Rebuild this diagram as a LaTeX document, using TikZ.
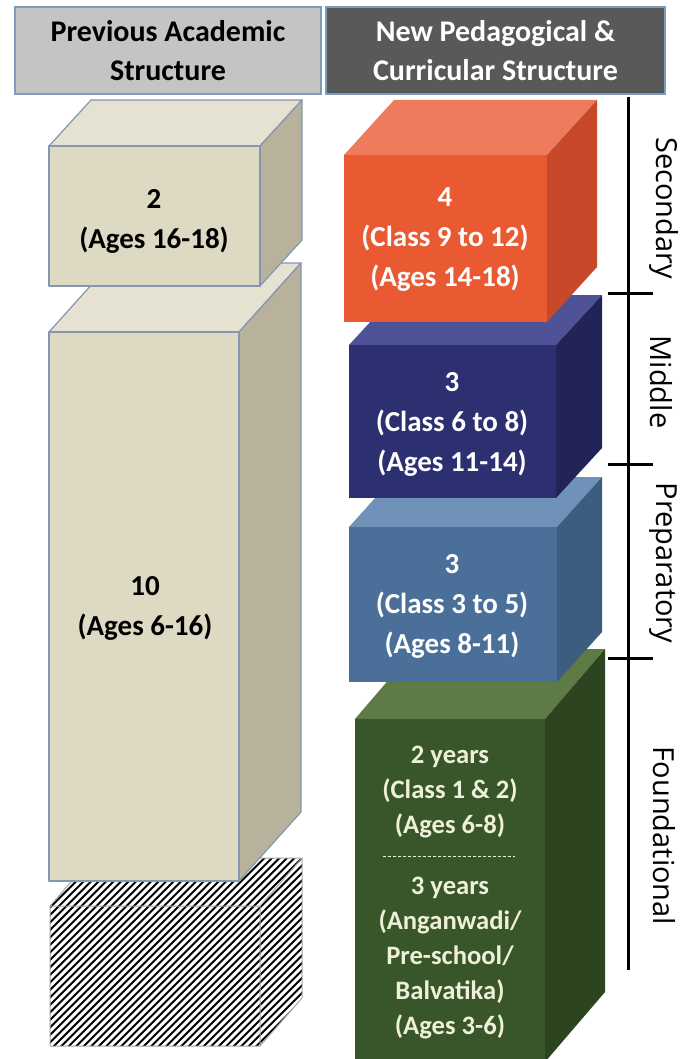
\documentclass[tikz,border=0pt]{standalone}
\usepackage{fontspec}
\setmainfont{Carlito}
\newfontfamily\labelfont{Open Sans}
\usetikzlibrary{positioning,calc}
\definecolor{headline}{HTML}{7F9BBA}
\definecolor{oldline}{HTML}{8496B0}
\definecolor{beigeF}{HTML}{DDD9C3}
\definecolor{beigeT}{HTML}{E6E2D1}
\definecolor{beigeS}{HTML}{B8B19C}
\definecolor{orangeF}{HTML}{E95A32}
\definecolor{orangeT}{HTML}{EE7B5C}
\definecolor{orangeS}{HTML}{C8482A}
\definecolor{navyF}{HTML}{2C2F70}
\definecolor{navyT}{HTML}{4D5396}
\definecolor{navyS}{HTML}{222458}
\definecolor{steelF}{HTML}{4A7099}
\definecolor{steelT}{HTML}{7192B8}
\definecolor{steelS}{HTML}{3C5C80}
\definecolor{greenF}{HTML}{39562A}
\definecolor{greenT}{HTML}{5E7B46}
\definecolor{greenS}{HTML}{2C4520}
\definecolor{creamtext}{HTML}{EEF0D8}
\tikzset{
  header/.style={draw=headline, line width=1pt, minimum width=#1, minimum height=43.5pt,
    align=center, inner sep=0pt, font=\fontsize{15}{19.5}\selectfont\bfseries},
  boxtext/.style={align=center, inner sep=0pt, font=\fontsize{14.5}{20}\selectfont\bfseries},
  sidelabel/.style={rotate=-90, inner sep=0pt, font=\labelfont\fontsize{14.5}{17}\selectfont},
  bracket/.style={line width=1.5pt},
  oldedge/.style={draw=oldline, line width=0.6pt, line join=round}
}
% front (#1,#2)-(#3,#4), depth (#5,#6), colour #7, extra options #8
\newcommand{\blockbox}[8]{%
  \path[#8,fill=#7T] (#1,#2) -- ++(#5,-#6) -- ++({#3-#1},0) -- (#3,#2) -- cycle;
  \path[#8,fill=#7S] (#3,#2) -- ++(#5,-#6) -- ++(0,{#4-#2}) -- (#3,#4) -- cycle;
  \path[#8,fill=#7F] (#1,#2) rectangle (#3,#4);
}

\begin{document}
\begin{tikzpicture}[x=0.5pt,y=-0.5pt]
  \useasboundingbox[fill=white] (0,0) rectangle (682,1059);

  \node[header=153pt,fill=black!23] (prev) at (168,50.5) {Previous Academic\\Structure};
  \node[header=169.5pt,fill=black!65,text=white] (new) at (495.5,50.5) {New Pedagogical \&\\Curricular Structure};

  % hatched block
  \begin{scope}
    \clip (50,1046) -- (50,906) -- (92,858) -- (302,858) -- (302,998) -- (260,1046) -- cycle;
    \foreach \x in {-170,-162.5,...,305} \draw[line width=1pt] (\x,1060) -- ++(230,-230);
  \end{scope}
  \draw[black!35,line width=0.5pt] (50,906) rectangle (260,1046) (50,906) -- (92,858) -- (302,858) -- (260,906)
    (302,858) -- (302,998) -- (260,1046);

  \blockbox{49}{332}{239}{881}{62}{69}{beige}{oldedge}
  \blockbox{49}{146}{260}{286}{42}{46}{beige}{oldedge}
  \node[boxtext] (old10) at (145,608) {10\\(Ages 6-16)};
  \node[boxtext] (old2) at (154,221) {2\\(Ages 16-18)};

  \blockbox{355}{719}{545}{1062}{60}{70}{green}{}
  \blockbox{349}{527}{557}{682}{45}{50}{steel}{}
  \blockbox{349}{345}{556}{498}{46}{50}{navy}{}
  \blockbox{344}{155}{547}{322}{50}{55}{orange}{}

  \node[boxtext,text=white] (sec) at (445,240) {4\\(Class 9 to 12)\\(Ages 14-18)};
  \node[boxtext,text=white] (mid) at (452,424) {3\\(Class 6 to 8)\\(Ages 11-14)};
  \node[boxtext,text=white] (prep) at (452,606) {3\\(Class 3 to 5)\\(Ages 8-11)};
  \node[boxtext,text=creamtext,font=\fontsize{13.3}{17.5}\selectfont\bfseries] (found2) at (450,792)
    {2 years\\(Class 1 \& 2)\\(Ages 6-8)};
  \node[boxtext,text=creamtext,font=\fontsize{13.3}{17.5}\selectfont\bfseries] (found3) at (450,958)
    {3 years\\(Anganwadi/\\Pre-school/\\Balvatika)\\(Ages 3-6)};
  \coordinate (dl) at (383,856);
  \coordinate (dr) at (515,856);
  \draw[creamtext,line width=0.5pt,dash pattern=on 1.5pt off 1pt] (dl) -- (dr);

  \coordinate (btop) at (628,97);
  \coordinate (bbot) at (628,970);
  \draw[bracket] (btop) -- (bbot);
  \foreach \y in {293,464,658} \draw[bracket] (608,\y) -- (653,\y);
  \node[sidelabel] (lsec) at (664,208) {Secondary};
  \node[sidelabel] (lmid) at (661,382) {Middle};
  \node[sidelabel] (lprep) at (663,563) {Preparatory};
  \node[sidelabel] (lfound) at (664,836) {Foundational};
\end{tikzpicture}
\end{document}
